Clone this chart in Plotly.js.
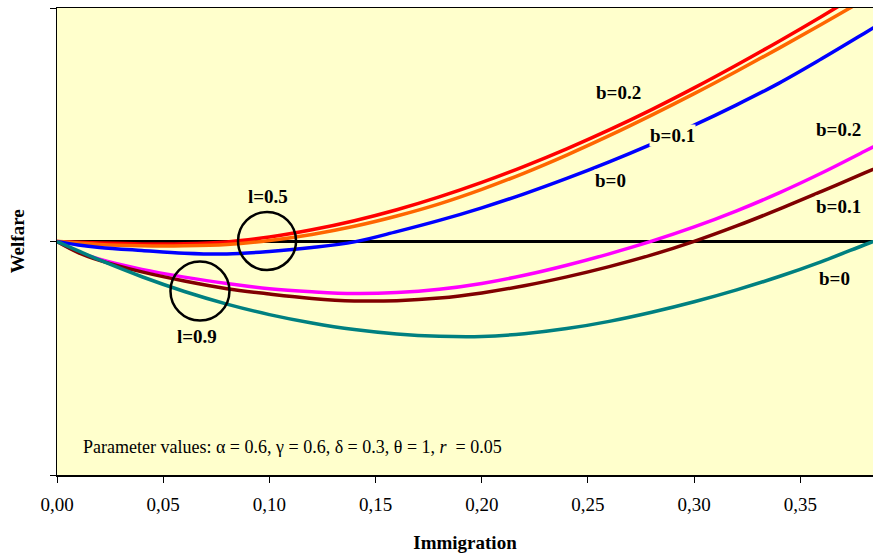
<!DOCTYPE html>
<html>
<head>
<meta charset="utf-8">
<script src="https://cdn.plot.ly/plotly-3.0.1.min.js"></script>
<style>html,body{margin:0;padding:0;background:#fff;}</style>
</head>
<body>
<div id="chart" style="width:873px;height:554px;"></div>
<script>
// Immigration levels (x axis)
const immigration = [0, 0.01, 0.02, 0.04, 0.06, 0.08, 0.10, 0.12, 0.14, 0.16, 0.18, 0.20, 0.22, 0.24, 0.26, 0.28, 0.30, 0.32, 0.34, 0.36, 0.38, 0.39];

// lambda = 0.5
const l05_b02 = [0, -0.0034, -0.0064, -0.0103, -0.0099, -0.0021, 0.019, 0.050, 0.089, 0.136, 0.191, 0.253, 0.322, 0.397, 0.478, 0.565, 0.658, 0.756, 0.858, 0.964, 1.074, 1.13];
const l05_b01 = [0, -0.0064, -0.0128, -0.0184, -0.0184, -0.0128, 0.0042, 0.0302, 0.0652, 0.1092, 0.1612, 0.2232, 0.2932, 0.3702, 0.4532, 0.5412, 0.6332, 0.7292, 0.8282, 0.9302, 1.0352, 1.09];
const l05_b0  = [0, -0.015, -0.0253, -0.0385, -0.0501, -0.0535, -0.0428, -0.0261, -0.0017, 0.0423, 0.0903, 0.1443, 0.2043, 0.2703, 0.3413, 0.4173, 0.4983, 0.5853, 0.6783, 0.7823, 0.891, 0.946];

// lambda = 0.9
const l09_b02 = [0, -0.0441, -0.0762, -0.1195, -0.1525, -0.1803, -0.2021, -0.215, -0.2227, -0.2187, -0.2047, -0.1797, -0.1447, -0.1017, -0.0527, 0.0013, 0.0623, 0.1313, 0.2083, 0.2933, 0.3853, 0.432];
const l09_b01 = [0, -0.0475, -0.0805, -0.1302, -0.1692, -0.2021, -0.2248, -0.2437, -0.2544, -0.2534, -0.2424, -0.2204, -0.1894, -0.1514, -0.1074, -0.0574, 0.0006, 0.0666, 0.1386, 0.2146, 0.2926, 0.332];
const l09_b0  = [0, -0.040, -0.079, -0.151, -0.214, -0.268, -0.313, -0.349, -0.377, -0.396, -0.406, -0.407, -0.395, -0.373, -0.342, -0.303, -0.258, -0.207, -0.150, -0.086, -0.015, 0.02];

const xTickVals = [0, 0.05, 0.10, 0.15, 0.20, 0.25, 0.30, 0.35];
const yTickVals = [-1, 0, 1];

const series = [
  {y: l05_b02, color: '#FF0000', name: 'λ=0.5, β=0.2'},
  {y: l05_b01, color: '#FF6600', name: 'λ=0.5, β=0.1'},
  {y: l05_b0,  color: '#0000FF', name: 'λ=0.5, β=0'},
  {y: l09_b02, color: '#FF00FF', name: 'λ=0.9, β=0.2'},
  {y: l09_b01, color: '#800000', name: 'λ=0.9, β=0.1'},
  {y: l09_b0,  color: '#008080', name: 'λ=0.9, β=0'}
];

const traces = series.map(s => ({
  type: 'scatter', mode: 'lines', x: immigration, y: s.y, name: s.name,
  line: {color: s.color, width: 3.5, shape: 'spline', smoothing: 1},
  hoverinfo: 'skip', showlegend: false
}));

const serif = '"Liberation Serif", "Times New Roman", serif';
const labelFont = {family: serif, size: 19, color: '#000'};

function lab(text, x, y) {
  return {text: '<b>' + text + '</b>', xref: 'paper', yref: 'paper', x: x, y: y,
    xanchor: 'center', yanchor: 'middle', showarrow: false, font: labelFont,
    bgcolor: '#FFFFCC', borderpad: 0};
}

const annotations = [
  lab('b=0.2', 0.6875, 0.8201),
  lab('b=0.1', 0.7549, 0.728),
  lab('b=0', 0.6777, 0.6296),
  lab('b=0.2', 0.9583, 0.7388),
  lab('b=0.1', 0.9583, 0.5739),
  lab('b=0', 0.9534, 0.4218),
  lab('l=0.5', 0.2586, 0.5974),
  lab('l=0.9', 0.1716, 0.2976),
  {text: 'Parameter values: α = 0.6, γ = 0.6, δ = 0.3, θ = 1, <i>r</i>  = 0.05',
   xref: 'paper', yref: 'paper', x: 0.0294, y: 0.06, xanchor: 'left', yanchor: 'middle',
   showarrow: false, font: {family: serif, size: 18, color: '#000'}},
  {text: '<b>Welfare</b>', xref: 'paper', yref: 'paper', x: -0.048, y: 0.5, textangle: -90,
   xanchor: 'center', yanchor: 'middle', showarrow: false, font: {family: serif, size: 19, color: '#000'}}
];

function circ(cx, cy, r) {
  return {type: 'circle', xref: 'paper', yref: 'paper', xsizemode: 'pixel', ysizemode: 'pixel',
    xanchor: cx, yanchor: cy, x0: -r, x1: r, y0: -r, y1: r,
    line: {color: '#000', width: 2.5}, fillcolor: 'rgba(0,0,0,0)'};
}

const layout = {
  width: 873, height: 554,
  margin: {l: 57, r: 0, t: 8, b: 79},
  paper_bgcolor: '#FFFFFF', plot_bgcolor: '#FFFFCC',
  separators: ',.',
  font: {family: serif, color: '#000'},
  xaxis: {
    range: [0, 0.3842], tickvals: xTickVals, tickformat: '.2f',
    ticks: 'outside', ticklen: 6, tickwidth: 1, tickcolor: '#000',
    ticklabelstandoff: 6,
    showline: true, linecolor: '#000', linewidth: 1.5, mirror: true,
    showgrid: false, zeroline: false,
    tickfont: {family: serif, size: 19, color: '#000'},
    title: {text: '<b>Immigration</b>', font: {family: serif, size: 19, color: '#000'}, standoff: 21}
  },
  yaxis: {
    range: [-1, 1], tickvals: yTickVals, showticklabels: false,
    ticks: 'outside', ticklen: 6, tickwidth: 1, tickcolor: '#000',
    showline: true, linecolor: '#000', linewidth: 1.5, mirror: false,
    showgrid: false, zeroline: true, zerolinecolor: '#000', zerolinewidth: 3
  },
  annotations: annotations,
  shapes: [circ(0.2574, 0.5011, 29), circ(0.1752, 0.394, 29.5)],
  showlegend: false
};

Plotly.newPlot('chart', traces, layout, {staticPlot: true, displayModeBar: false});
</script>
</body>
</html>
